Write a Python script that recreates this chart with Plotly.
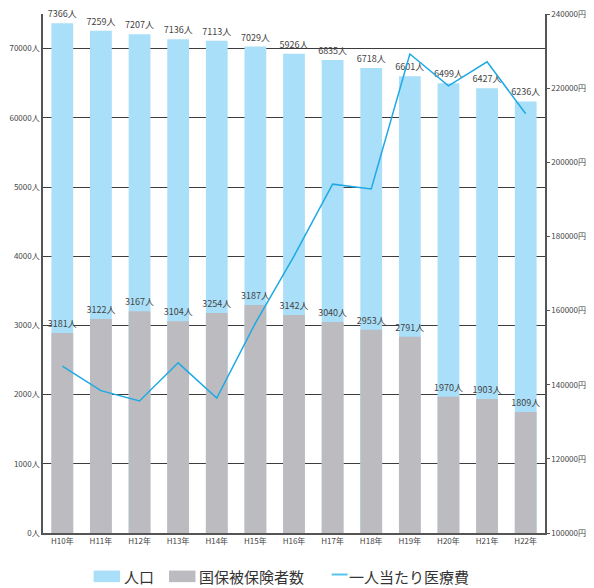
import plotly.graph_objects as go

years = ["H10年", "H11年", "H12年", "H13年", "H14年", "H15年", "H16年",
         "H17年", "H18年", "H19年", "H20年", "H21年", "H22年"]

# population bars (heights as drawn) and their printed labels
population = [7366, 7259, 7207, 7136, 7113, 7029, 6926, 6835, 6718, 6601, 6499, 6427, 6236]
population_labels = ["7366人", "7259人", "7207人", "7136人", "7113人", "7029人", "5926人",
                     "6835人", "6718人", "6601人", "6499人", "6427人", "6236人"]

# insured bars (heights as drawn) and their printed labels
insured = [2889, 3093, 3203, 3060, 3179, 3293, 3150, 3050, 2936, 2836, 1970, 1935, 1749]
insured_labels = ["3181人", "3122人", "3167人", "3104人", "3254人", "3187人", "3142人",
                  "3040人", "2953人", "2791人", "1970人", "1903人", "1809人"]

# medical cost per person (yen)
cost = [145000, 138400, 135600, 145900, 136400, 156600, 174700,
        194100, 192800, 229200, 220600, 227100, 213100]

left_tickvals = [0, 1000, 2000, 3000, 4000, 5000, 6000, 7000]
left_ticktext = ["0人", "1000人", "2000人", "3000人", "4000人", "5000人", "60000人", "70000人"]
right_tickvals = [100000, 120000, 140000, 160000, 180000, 200000, 220000, 240000]
right_ticktext = ["100000円", "120000円", "140000円", "160000円", "180000円",
                  "200000円", "220000円", "240000円"]

FONT = "Noto Sans CJK JP, Noto Sans, sans-serif"
BLUE = "#a9dff8"
GRAY = "#bcbcc0"
LINE = "#1fa9e4"

fig = go.Figure()
fig.add_trace(go.Bar(
    x=years, y=population, name="人口", marker_color=BLUE, marker_line_width=0,
    text=population_labels, textposition="outside", cliponaxis=False, constraintext="none",
    textfont=dict(size=9, color="#444", family=FONT), showlegend=False,
))
fig.add_trace(go.Bar(
    x=years, y=insured, name="国保被保険者数", marker_color=GRAY, marker_line_width=0,
    text=insured_labels, textposition="outside", cliponaxis=False, constraintext="none",
    textfont=dict(size=9, color="#444", family=FONT), showlegend=False,
))
fig.add_trace(go.Scatter(
    x=years, y=cost, name="一人当たり医療費", yaxis="y2", mode="lines",
    line=dict(color=LINE, width=1.5), showlegend=False,
))

# custom legend (wide swatches as in the reference)
def px(x):
    return (x - 43) / 506

def py(y):
    return (533 - y) / 525

shapes = [
    dict(type="rect", xref="paper", yref="paper", x0=px(94), x1=px(120.7),
         y0=py(571), y1=py(582.7), fillcolor=BLUE, line_width=0),
    dict(type="rect", xref="paper", yref="paper", x0=px(170), x1=px(196.7),
         y0=py(571), y1=py(582.7), fillcolor=GRAY, line_width=0),
    dict(type="line", xref="paper", yref="paper", x0=px(334), x1=px(350),
         y0=py(575), y1=py(575), line=dict(color="#55c4ef", width=2)),
]
legend_texts = [("人口", 123), ("国保被保険者数", 198), ("一人当たり医療費", 349)]
annotations = [
    dict(text=t, xref="paper", yref="paper", x=px(xp), y=py(577), xanchor="left",
         yanchor="middle", showarrow=False, font=dict(size=15, color="#333", family=FONT))
    for t, xp in legend_texts
]

fig.update_layout(
    width=594, height=588,
    margin=dict(l=43, r=45, t=8, b=55),
    barmode="overlay", bargap=0.436,
    plot_bgcolor="white", paper_bgcolor="white",
    font=dict(family=FONT, size=8, color="#444"),
    shapes=shapes, annotations=annotations,
    xaxis=dict(
        showline=True, linecolor="#555", linewidth=1.5, ticks="", showgrid=False,
        tickfont=dict(size=8, color="#444"),
    ),
    yaxis=dict(
        range=[0, 7500], tickvals=left_tickvals, ticktext=left_ticktext,
        showgrid=True, gridcolor="#3c3c3c", gridwidth=1.3, zeroline=False,
        showline=True, linecolor="#555", linewidth=1.5, ticks="",
        tickfont=dict(size=8, color="#444"),
    ),
    yaxis2=dict(
        range=[100000, 240000], tickvals=right_tickvals, ticktext=right_ticktext,
        overlaying="y", side="right", showgrid=False, zeroline=False,
        showline=True, linecolor="#555", linewidth=1.5,
        ticks="outside", ticklen=3, tickcolor="#555", tickwidth=1,
        tickfont=dict(size=8, color="#444"),
    ),
)

fig.write_html("out.html")
